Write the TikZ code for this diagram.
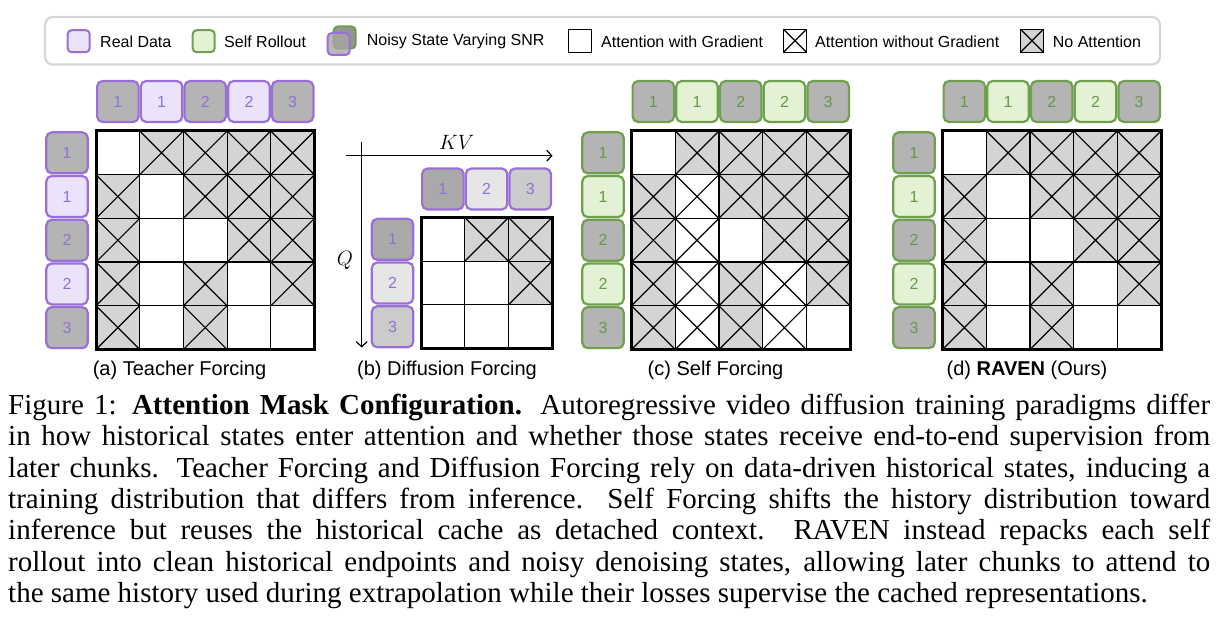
\documentclass[tikz,border=0pt]{standalone}
\usepackage{fontspec}
\setmainfont{Liberation Serif}
\newfontfamily\lsans{Liberation Sans}
\usetikzlibrary{arrows.meta}
\definecolor{pborder}{HTML}{9A70D8}
\definecolor{pfill}{HTML}{EAE3FA}
\definecolor{ptext}{HTML}{9270D4}
\definecolor{gborder}{HTML}{6FA04E}
\definecolor{gfill}{HTML}{E3F1D4}
\definecolor{gtext}{HTML}{66984A}
\definecolor{noisy}{HTML}{B4B4B4}
\definecolor{noattn}{HTML}{D4D4D4}
\definecolor{legline}{HTML}{D6D6D6}
\definecolor{bone}{HTML}{A9A9A9}
\definecolor{btwo}{HTML}{E6E6E6}
\definecolor{bthree}{HTML}{CBCBCB}
\tikzset{
  cellbase/.style={draw=black, line width=1.2pt, minimum width=43.7pt, minimum height=43.7pt, inner sep=0pt, outer sep=0pt},
  crossed/.style={path picture={\draw[line width=1.2pt] (path picture bounding box.north west) -- (path picture bounding box.south east) (path picture bounding box.south west) -- (path picture bounding box.north east);}},
  cellW/.style={cellbase, fill=white},
  cellX/.style={cellbase, fill=white, crossed},
  cellN/.style={cellbase, fill=noattn, crossed},
  gridframe/.style={draw=black, line width=3pt},
  tokbase/.style={line width=2.2pt, rounded corners=5.5pt, minimum width=41.5pt, minimum height=41pt, inner sep=0pt, font=\lsans\fontsize{16}{16}\selectfont},
  tokNP/.style={tokbase, draw=pborder, fill=noisy, text=ptext},
  tokRP/.style={tokbase, draw=pborder, fill=pfill, text=ptext},
  tokNG/.style={tokbase, draw=gborder, fill=noisy, text=gtext},
  tokRG/.style={tokbase, draw=gborder, fill=gfill, text=gtext},
  legtxt/.style={anchor=west, inner sep=0pt, font=\lsans\fontsize{16}{16}\selectfont},
  legsq/.style={minimum width=22pt, minimum height=22pt, inner sep=0pt, line width=2pt, rounded corners=4pt},
  legatt/.style={cellbase, minimum width=23pt, minimum height=23pt, line width=1.3pt},
  panellabel/.style={inner sep=0pt, font=\lsans\fontsize{20}{20}\selectfont},
  axisarrow/.style={line width=1.2pt, -{Straight Barb[length=5pt,width=11pt]}},
}
\begin{document}
\begin{tikzpicture}[x=1pt, y=-1pt]
\useasboundingbox (0,0) rectangle (1219,636);
% legend
\node[draw=legline, line width=2.2pt, rounded corners=8pt, minimum width=1115pt, minimum height=47.5pt, inner sep=0pt] (legend) at (602.5,40.75) {};
\node[legsq, draw=pborder, fill=pfill] (lgreal) at (78.7,41.2) {};
\node[legtxt] (lgrealt) at (100,41.5) {Real Data};
\node[legsq, draw=gborder, fill=gfill] (lgself) at (203.7,41.2) {};
\node[legtxt] (lgselft) at (224,41.5) {Self Rollout};
\node[legsq, draw=gborder, fill=black!42] (lgnoisyb) at (344.7,37.5) {};
\node[legsq, draw=pborder, fill=black!35, fill opacity=0.8] (lgnoisyf) at (338.7,44) {};
\node[legtxt] (lgnoisyt) at (366.7,41.5) {Noisy State Varying SNR};
\node[legatt, fill=white] (lgw) at (580.3,40.7) {};
\node[legtxt] (lgwt) at (601,41.5) {Attention with Gradient};
\node[legatt, fill=white, crossed] (lgx) at (795,40.7) {};
\node[legtxt] (lgxt) at (815,41.5) {Attention without Gradient};
\node[legatt, fill=noattn, crossed] (lgn) at (1032,40.7) {};
\node[legtxt] (lgnt) at (1052.7,41.5) {No Attention};

% ---------- panel (a)
\foreach \t/\lab [count=\k] in {NP/1,RP/1,NP/2,RP/2,NP/3} {
  \node[tok\t] (a-top-\k) at ({96+43.7*(\k-0.5)},101.5) {\lab};
  \node[tok\t] (a-left-\k) at (67,{131+43.7*(\k-0.5)}) {\lab};
}
\foreach \rowspec [count=\r] in {{W,N,N,N,N},{N,W,N,N,N},{N,W,W,N,N},{N,W,N,W,N},{N,W,N,W,W}} {
  \foreach \t [count=\k] in \rowspec {
    \node[cell\t] (a-\r-\k) at ({96+43.7*(\k-0.5)},{131+43.7*(\r-0.5)}) {};
  }
}
\draw[gridframe] (a-1-1.north west) rectangle (a-5-5.south east);
\node[panellabel] (alab) at (179.5,370) {(a) Teacher Forcing};

% ---------- panel (b)
\coordinate (kvs) at (345.7,155.7);
\coordinate (kve) at (552.5,155.7);
\coordinate (qs) at (361.7,141.7);
\coordinate (qe) at (361.7,347.5);
\draw[axisarrow] (kvs) -- (kve);
\draw[axisarrow] (qs) -- (qe);
\node[inner sep=0pt, font=\fontsize{22}{22}\selectfont] (kvlab) at (456.7,142) {$KV$};
\node[inner sep=0pt, font=\fontsize{22}{22}\selectfont] (qlab) at (345,260.7) {$Q$};
\foreach \c/\lab [count=\k] in {bone/1,btwo/2,bthree/3} {
  \node[tokbase, draw=pborder, fill=\c, text=ptext] (b-top-\k) at ({421+43.7*(\k-0.5)},189) {\lab};
  \node[tokbase, draw=pborder, fill=\c, text=ptext] (b-left-\k) at (392.5,{217.5+43.7*(\k-0.5)}) {\lab};
}
\foreach \rowspec [count=\r] in {{W,N,N},{W,W,N},{W,W,W}} {
  \foreach \t [count=\k] in \rowspec {
    \node[cell\t] (b-\r-\k) at ({421+43.7*(\k-0.5)},{217.5+43.7*(\r-0.5)}) {};
  }
}
\draw[gridframe] (b-1-1.north west) rectangle (b-3-3.south east);
\node[panellabel] (blab) at (447,370) {(b) Diffusion Forcing};

% ---------- panel (c)
\foreach \t/\lab [count=\k] in {NG/1,RG/1,NG/2,RG/2,NG/3} {
  \node[tok\t] (c-top-\k) at ({631.5+43.7*(\k-0.5)},101.5) {\lab};
  \node[tok\t] (c-left-\k) at (603,{131+43.7*(\k-0.5)}) {\lab};
}
\foreach \rowspec [count=\r] in {{W,N,N,N,N},{N,X,N,N,N},{N,X,W,N,N},{N,X,N,X,N},{N,X,N,X,W}} {
  \foreach \t [count=\k] in \rowspec {
    \node[cell\t] (c-\r-\k) at ({631.5+43.7*(\k-0.5)},{131+43.7*(\r-0.5)}) {};
  }
}
\draw[gridframe] (c-1-1.north west) rectangle (c-5-5.south east);
\node[panellabel] (clab) at (715.5,370) {(c) Self Forcing};

% ---------- panel (d)
\foreach \t/\lab [count=\k] in {NG/1,RG/1,NG/2,RG/2,NG/3} {
  \node[tok\t] (d-top-\k) at ({942.5+43.7*(\k-0.5)},101.5) {\lab};
  \node[tok\t] (d-left-\k) at (914,{131+43.7*(\k-0.5)}) {\lab};
}
\foreach \rowspec [count=\r] in {{W,N,N,N,N},{N,W,N,N,N},{N,W,W,N,N},{N,W,N,W,N},{N,W,N,W,W}} {
  \foreach \t [count=\k] in \rowspec {
    \node[cell\t] (d-\r-\k) at ({942.5+43.7*(\k-0.5)},{131+43.7*(\r-0.5)}) {};
  }
}
\draw[gridframe] (d-1-1.north west) rectangle (d-5-5.south east);
\node[panellabel] (dlab) at (1027,370) {(d) \textbf{RAVEN} (Ours)};

% ---------- caption
\node[anchor=base west, text width=1202pt, align=justify, inner sep=0pt, font=\fontsize{29}{31.5}\selectfont] (caption) at (8,414) {\parfillskip=0pt \hyphenpenalty=10000 Figure 1: \textbf{Attention Mask Configuration.} Autoregressive video diffusion training paradigms differ\linebreak
in how historical states enter attention and whether those states receive end-to-end supervision from\linebreak
later chunks. Teacher Forcing and Diffusion Forcing rely on data-driven historical states, inducing a\linebreak
training distribution that differs from inference. Self Forcing shifts the history distribution toward\linebreak
inference but reuses the historical cache as detached context. RAVEN instead repacks each self\linebreak
rollout into clean historical endpoints and noisy denoising states, allowing later chunks to attend to\linebreak
the same history used during extrapolation while their losses supervise the cached representations.};
\end{tikzpicture}
\end{document}
